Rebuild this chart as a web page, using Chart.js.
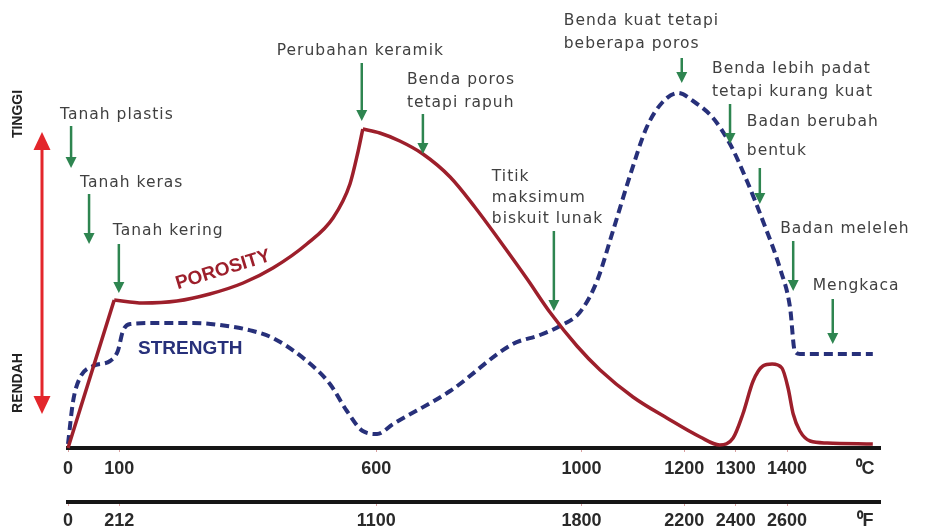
<!DOCTYPE html>
<html>
<head>
<meta charset="utf-8">
<script src="https://cdn.jsdelivr.net/npm/chart.js@4.4.1/dist/chart.umd.min.js"></script>
<style>
  html, body { margin: 0; padding: 0; background: #fff; }
  #wrap { width: 930px; height: 529px; position: relative; }
</style>
</head>
<body>
<div id="wrap"><canvas id="firing"></canvas></div>
<script>
// temperature in degrees C, level is a relative 0-100 height
const porosityTemp = [0, 90, 146, 212, 276, 341, 399, 465, 516, 549, 565, 574, 607, 646, 691, 744, 792, 841, 894, 938, 991, 1036, 1100, 1166, 1231, 1269, 1295, 1314, 1334, 1353, 1371, 1390, 1402, 1412, 1425, 1445, 1478, 1567];
const porosityLevel = [0, 37, 36.25, 36.75, 38.5, 41.25, 45, 51, 57.5, 66, 74.25, 79.75, 78.75, 76.75, 73.5, 67.75, 60.25, 51.75, 42.25, 34, 25.5, 19.5, 12.75, 7.5, 2.75, 0.75, 2.5, 8.5, 16.75, 20.5, 21, 20, 15, 8.5, 4.25, 1.75, 1.25, 1];

const strengthTemp = [0, 10, 23, 49, 82, 97, 107, 121, 179, 243, 310, 360, 399, 465, 510, 543, 574, 602, 633, 744, 866, 919, 958, 997, 1030, 1061, 1094, 1127, 1158, 1188, 1217, 1256, 1289, 1322, 1353, 1386, 1406, 1415, 1425, 1567];
const strengthLevel = [1, 11.75, 17.5, 20.5, 21.75, 24.25, 29.25, 31, 31.25, 31.25, 30.5, 29.25, 27.5, 21.75, 16, 9.25, 4.25, 3.5, 6, 14.25, 26, 28.25, 30.5, 34, 41.75, 54.25, 68, 80.25, 86.5, 88.75, 86.75, 82.5, 76, 66.75, 56.75, 45, 35, 24.25, 23.5, 23.5];

const celsiusTicks = [0, 100, 600, 1000, 1200, 1300, 1400, 1552];
const celsiusLabels = ['0', '100', '600', '1000', '1200', '1300', '1400', '\u2070C'];
const fahrenheitLabels = ['0', '212', '1100', '1800', '2200', '2400', '2600', '\u2070F'];

// stage notes: arrow tip at (t, v), text stacked above the arrow
const notes = [
    { t: 6, v: 70, len: 42, dx: -11, lh: 22, gap: 11, lines: ['Tanah plastis'] },
    { t: 41, v: 51, len: 50, dx: -9, lh: 22, gap: 11, lines: ['Tanah keras'] },
    { t: 99, v: 38.75, len: 49, dx: -6, lh: 22, gap: 13, lines: ['Tanah kering'] },
    { t: 572, v: 81.75, len: 58, dx: -85, lh: 22, gap: 12, lines: ['Perubahan keramik'] },
    { t: 691, v: 73.5, len: 40, dx: -16, lh: 23, gap: 11, lines: ['Benda poros', 'tetapi rapuh'] },
    { t: 946, v: 34.25, len: 80, dx: -62, lh: 21, gap: 12, lines: ['Titik', 'maksimum', 'biskuit lunak'] },
    { t: 1195, v: 91.25, len: 25, dx: -118, lh: 23, gap: 14, lines: ['Benda kuat tetapi', 'beberapa poros'] },
    { t: 1289, v: 76, len: 40, dx: -18, lh: 23, gap: 12, lines: ['Benda lebih padat', 'tetapi kurang kuat'] },
    { t: 1347, v: 61, len: 36, dx: -13, lh: 29, gap: 17, lines: ['Badan berubah', 'bentuk'] },
    { t: 1412, v: 39.25, len: 50, dx: -13, lh: 22, gap: 12, lines: ['Badan meleleh'] },
    { t: 1489, v: 26, len: 45, dx: -20, lh: 22, gap: 13, lines: ['Mengkaca'] }
];

const RED = '#9d1f2b';
const NAVY = '#27307a';
const GREEN = '#2e8550';

const toPoints = (xs, ys) => xs.map((x, i) => ({ x: x, y: ys[i] }));
const porosityPoints = toPoints(porosityTemp, porosityLevel);
const strengthPoints = toPoints(strengthTemp, strengthLevel);
const peak = porosityLevel.indexOf(Math.max(...porosityLevel));

function porosityPart(points, smooth) {
    return {
        data: points,
        borderColor: RED,
        borderWidth: 3.5,
        pointRadius: 0,
        fill: false,
        clip: false,
        tension: 0,
        cubicInterpolationMode: smooth ? 'monotone' : 'default',
        borderJoinStyle: 'round'
    };
}

function arrowHead(ctx, x, tipY, dir, w, h) {
    ctx.beginPath();
    ctx.moveTo(x, tipY);
    ctx.lineTo(x - w / 2, tipY - dir * h);
    ctx.lineTo(x + w / 2, tipY - dir * h);
    ctx.closePath();
    ctx.fill();
}

const annotate = {
    id: 'annotate',
    afterDatasetsDraw(chart) {
        const ctx = chart.ctx;
        const xs = chart.scales.x;
        const ys = chart.scales.y;
        ctx.save();

        // curve names
        ctx.font = 'bold 19px "Liberation Sans", Arial, sans-serif';
        ctx.textAlign = 'center';
        ctx.textBaseline = 'middle';
        ctx.fillStyle = RED;
        ctx.save();
        ctx.translate(xs.getPixelForValue(302), ys.getPixelForValue(44.5));
        ctx.rotate(-17 * Math.PI / 180);
        ctx.fillText('POROSITY', 0, 0);
        ctx.restore();
        ctx.fillStyle = NAVY;
        ctx.fillText('STRENGTH', xs.getPixelForValue(238), ys.getPixelForValue(24.75));

        // high / low arrow on the left
        const ax = chart.chartArea.left - 26;
        const top = ys.getPixelForValue(79);
        const bottom = ys.getPixelForValue(8.5);
        ctx.strokeStyle = '#e3262b';
        ctx.fillStyle = '#e3262b';
        ctx.lineWidth = 3;
        ctx.beginPath();
        ctx.moveTo(ax, top + 12);
        ctx.lineTo(ax, bottom - 12);
        ctx.stroke();
        arrowHead(ctx, ax, top, -1, 17, 18);
        arrowHead(ctx, ax, bottom, 1, 17, 18);

        ctx.fillStyle = '#222';
        ctx.font = 'bold 14px "Liberation Sans", Arial, sans-serif';
        [['TINGGI', 114], ['RENDAH', 383]].forEach(([word, cy]) => {
            ctx.save();
            ctx.translate(18, cy);
            ctx.rotate(-Math.PI / 2);
            ctx.fillText(word, 0, 0);
            ctx.restore();
        });

        // stage notes
        ctx.font = '15.5px "DejaVu Sans", sans-serif';
        ctx.textAlign = 'left';
        if ('letterSpacing' in ctx) ctx.letterSpacing = '1px';
        notes.forEach(n => {
            const x = xs.getPixelForValue(n.t);
            const tip = ys.getPixelForValue(n.v);
            const start = tip - n.len;
            ctx.strokeStyle = GREEN;
            ctx.fillStyle = GREEN;
            ctx.lineWidth = 2.5;
            ctx.beginPath();
            ctx.moveTo(x, start);
            ctx.lineTo(x, tip - 8);
            ctx.stroke();
            arrowHead(ctx, x, tip, 1, 11, 11);

            ctx.fillStyle = '#404040';
            const count = n.lines.length;
            n.lines.forEach((line, i) => {
                ctx.fillText(line, x + n.dx, start - n.gap - (count - 1 - i) * n.lh);
            });
        });
        ctx.restore();
    }
};

const tickFont = { family: '"Liberation Sans Narrow", "Liberation Sans", sans-serif', size: 18, weight: 'bold' };
const tickMark = c => (c.tick && c.tick.value === celsiusTicks[celsiusTicks.length - 1]) ? 'rgba(0,0,0,0)' : '#d8a0a0';

function tempAxis(labels, height, padding) {
    return {
        type: 'linear',
        position: 'bottom',
        min: 0,
        max: 1581,
        afterBuildTicks: s => { s.ticks = celsiusTicks.map(v => ({ value: v })); },
        afterFit: s => { s.height = height; },
        ticks: {
            autoSkip: false,
            maxRotation: 0,
            padding: padding,
            color: '#2a2a2a',
            font: tickFont,
            callback: (v, i) => labels[i]
        },
        grid: { drawOnChartArea: false, drawTicks: true, tickLength: 4, color: tickMark },
        border: { display: true, color: '#161616', width: 4 }
    };
}

new Chart(document.getElementById('firing'), {
    type: 'line',
    data: {
        datasets: [
            porosityPart(porosityPoints.slice(0, 2), false),
            porosityPart(porosityPoints.slice(1, peak + 1), true),
            porosityPart(porosityPoints.slice(peak), true),
            {
                data: strengthPoints,
                borderColor: NAVY,
                borderWidth: 4,
                borderDash: [9, 5],
                pointRadius: 0,
                fill: false,
                clip: false,
                cubicInterpolationMode: 'monotone'
            }
        ]
    },
    options: {
        responsive: true,
        maintainAspectRatio: false,
        animation: false,
        layout: { padding: { left: 68, right: 50, top: 48, bottom: 0 } },
        plugins: { legend: { display: false }, tooltip: { enabled: false } },
        scales: {
            x: tempAxis(celsiusLabels, 54, 6),
            x2: tempAxis(fahrenheitLabels, 27, 4),
            y: { display: false, min: 0, max: 100 }
        }
    },
    plugins: [annotate]
});
</script>
</body>
</html>
